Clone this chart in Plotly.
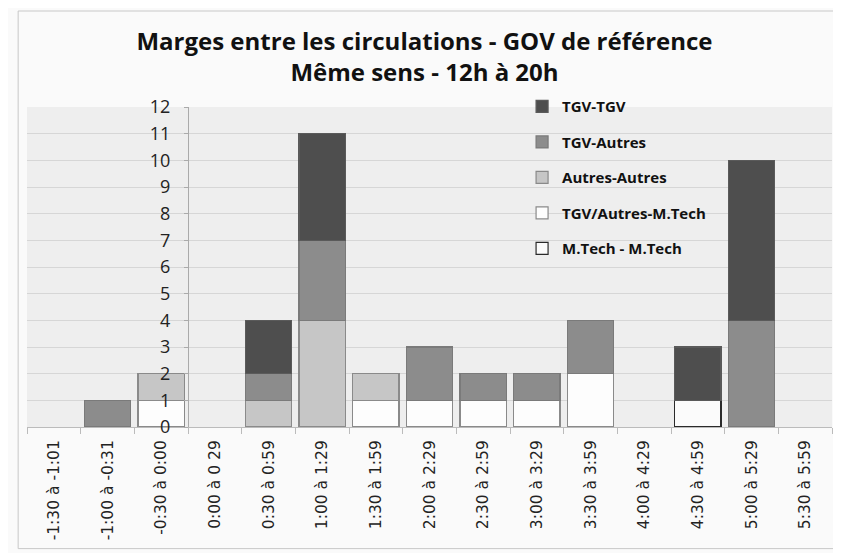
import plotly.graph_objects as go

categories = ["-1:30 à -1:01", "-1:00 à -0:31", "-0:30 à 0:00", "0:00 à 0 29",
              "0:30 à 0:59", "1:00 à 1:29", "1:30 à 1:59", "2:00 à 2:29",
              "2:30 à 2:59", "3:00 à 3:29", "3:30 à 3:59", "4:00 à 4:29",
              "4:30 à 4:59", "5:00 à 5:29", "5:30 à 5:59"]

mtech_mtech = [0, 0, 0, 0, 0, 0, 0, 0, 0, 0, 0, 0, 1, 0, 0]
tgv_autres_mtech = [0, 0, 1, 0, 0, 0, 1, 1, 1, 1, 2, 0, 0, 0, 0]
autres_autres = [0, 0, 1, 0, 1, 4, 1, 0, 0, 0, 0, 0, 0, 0, 0]
tgv_autres = [0, 1, 0, 0, 1, 3, 0, 2, 1, 1, 2, 0, 0, 4, 0]
tgv_tgv = [0, 0, 0, 0, 2, 4, 0, 0, 0, 0, 0, 0, 2, 6, 0]

y_ticks = list(range(0, 13))

series = [
    ("M.Tech - M.Tech", mtech_mtech, "#fbfbfb", "#2a2a2a", 5),
    ("TGV/Autres-M.Tech", tgv_autres_mtech, "#fdfdfd", "#8a8a8a", 4),
    ("Autres-Autres", autres_autres, "#c6c6c6", "#8a8a8a", 3),
    ("TGV-Autres", tgv_autres, "#8c8c8c", "#7a7a7a", 2),
    ("TGV-TGV", tgv_tgv, "#4e4e4e", "#5a5a5a", 1),
]

fig = go.Figure()
for name, vals, fill, edge, rank in series:
    fig.add_trace(go.Bar(
        x=categories, y=[v if v else None for v in vals], name=name, legendgroup=name,
        legendrank=rank,
        marker=dict(color=fill, line=dict(color=edge, width=1.2)),
    ))

fig.update_layout(
    width=833, height=545,
    barmode="stack", bargap=0.14,
    paper_bgcolor="#fafafa", plot_bgcolor="#eeeeee",
    margin=dict(l=19, r=9, t=99, b=126, autoexpand=False),
    font=dict(family="Open Sans, sans-serif", color="#111"),
    title=dict(
        text="<b>Marges entre les circulations - GOV de référence</b><br><b>Même sens - 12h à 20h</b>",
        x=0.5, xanchor="center", y=0.923, yanchor="top",
        font=dict(size=24, family="Open Sans, sans-serif", color="#111"),
    ),
    showlegend=True,
    legend=dict(
        x=0.615, y=1.0525, xanchor="left", yanchor="top",
        traceorder="grouped", tracegroupgap=13,
        bgcolor="rgba(0,0,0,0)",
        font=dict(size=15, family="Open Sans, sans-serif", color="#111", weight="bold"),
        itemwidth=30,
    ),
    xaxis=dict(
        type="category", range=[-0.5, 14.5],
        tickangle=-90, tickson="boundaries", ticks="outside", ticklen=6,
        tickcolor="#bbb", showline=True, linecolor="#bbb",
        showgrid=False, ticklabelstandoff=6,
        tickfont=dict(size=15.5, family="DejaVu Sans, sans-serif", color="#222"),
    ),
    yaxis=dict(
        range=[0, 12], tickvals=y_ticks, anchor="free", position=0.2,
        showline=True, linecolor="#aaa", ticks="outside", ticklen=4, tickcolor="#aaa",
        ticklabelstandoff=10,
        showgrid=True, gridcolor="#d6d6d6", gridwidth=1, zeroline=False,
        tickfont=dict(size=18, family="Open Sans, sans-serif", color="#222"),
    ),
    shapes=[dict(type="rect", xref="paper", yref="paper",
                 x0=-0.011, x1=1.006, y0=-0.38, y1=1.30,
                 line=dict(color="#c8c8c8", width=1), fillcolor="rgba(0,0,0,0)",
                 layer="below")],
)

fig.write_html("out.html")
